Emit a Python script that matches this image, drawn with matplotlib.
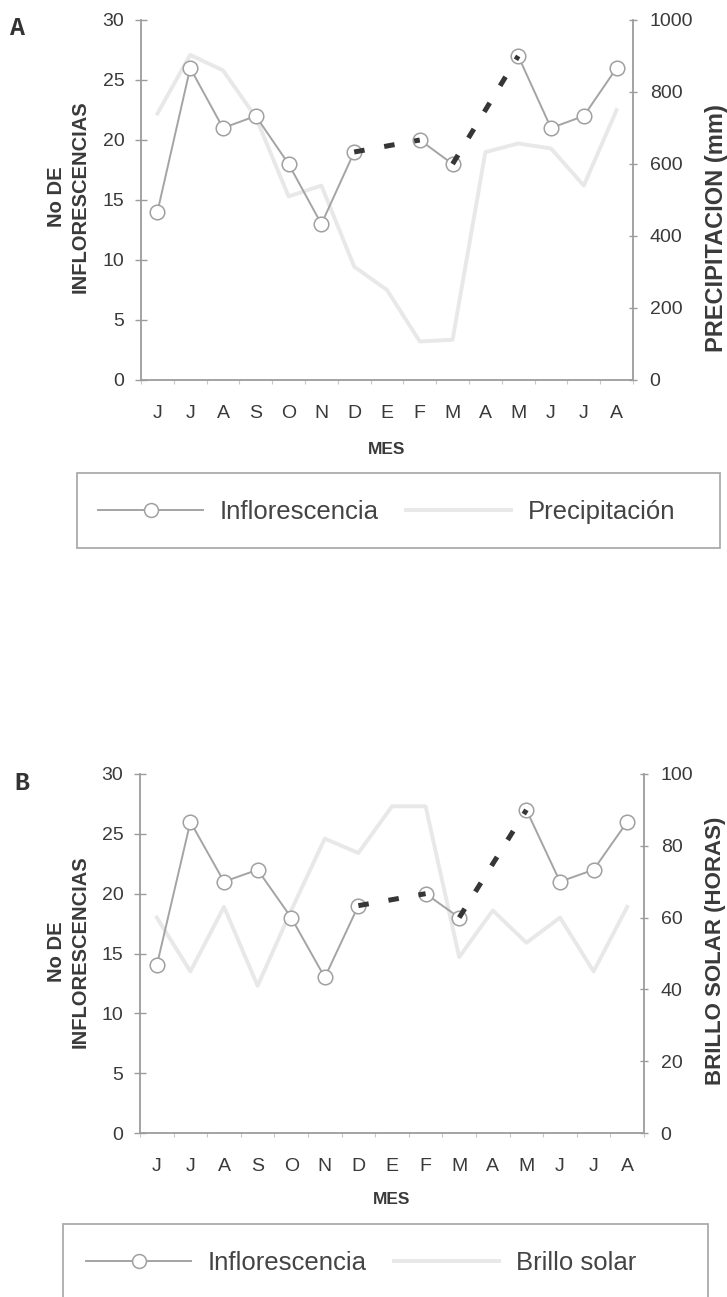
import numpy as np
import matplotlib
matplotlib.use("Agg")
import matplotlib.pyplot as plt
from matplotlib.lines import Line2D
from matplotlib.patches import Rectangle

plt.rcParams["font.family"] = ["Liberation Sans", "DejaVu Sans"]

MESES = ["J", "J", "A", "S", "O", "N", "D", "E", "F", "M", "A", "M", "J", "J", "A"]
# no data for E and A (dashed bridge in the original)
INFLORESCENCIAS = [14, 26, 21, 22, 18, 13, 19, np.nan, 20, 18, np.nan, 27, 21, 22, 26]
PRECIPITACION = [740, 903, 860, 730, 510, 540, 315, 250, 107, 112, 633, 657, 643, 540, 750]
BRILLO_SOLAR = [60, 45, 63, 41, 62, 82, 78, 91, 91, 49, 62, 53, 60, 45, 63]

W, H = 727, 1297
GRIS_EJE = "#9c9c9c"
GRIS_TXT = "#3a3a3a"
LINEA_INFL = "#a4a4a4"
LINEA_CLIMA = "#e8e8e8"


def fx(px):
    return px / W


def fy(py):
    return 1 - py / H


def draw_panel(fig, box, clima, clima_max, clima_label, clima_label_pos, clima_label_size,
               letter, letter_pos, left_label_pos, mes_y, leg_label, leg_pos, leg_frame):
    left, top, right, bottom = box
    ax = fig.add_axes([fx(left), fy(bottom), (right - left) / W, (bottom - top) / H])
    ax2 = ax.twinx()
    ax.set_zorder(ax2.get_zorder() + 1)
    ax.patch.set_visible(False)

    x = np.arange(len(MESES))
    ax2.plot(x, clima, color=LINEA_CLIMA, lw=2.8, solid_joinstyle="round")

    infl = np.array(INFLORESCENCIAS, dtype=float)
    ax.plot(x, infl, color=LINEA_INFL, lw=1.4, marker="o", ms=10.5, mfc="white",
            mec="#a0a0a0", mew=1.1, zorder=3)
    # dark dashed bridge across the months without data
    valid = np.where(~np.isnan(infl))[0]
    for a, b in zip(valid[:-1], valid[1:]):
        if b - a > 1:
            ax.plot([a, b], [infl[a], infl[b]], color="#363636", lw=3.6,
                    dashes=(2.1, 4.0), zorder=4)

    ax.set_xlim(-0.5, len(MESES) - 0.5)
    ax.set_ylim(0, 30)
    ax.set_yticks(range(0, 31, 5))
    ax2.set_ylim(0, clima_max)
    ax2.set_yticks(np.linspace(0, clima_max, 6))
    ax2.set_yticklabels([f"{v:.0f}" for v in np.linspace(0, clima_max, 6)])
    ax.set_xticks(x, MESES)
    ax.set_xticks(np.arange(-0.5, len(MESES), 1), minor=True)

    for s in ["top", "right"]:
        ax.spines[s].set_visible(False)
    for s in ["top", "left", "bottom"]:
        ax2.spines[s].set_visible(False)
    for sp in [ax.spines["left"], ax.spines["bottom"], ax2.spines["right"]]:
        sp.set_color(GRIS_EJE)
        sp.set_linewidth(1.3)

    ax.tick_params(axis="y", direction="inout", length=8, width=1, color=GRIS_EJE,
                   labelsize=14, labelcolor=GRIS_TXT, pad=8)
    ax2.tick_params(axis="y", direction="inout", length=6, width=1, color=GRIS_EJE,
                    labelsize=14, labelcolor=GRIS_TXT, pad=9)
    ax.tick_params(axis="x", which="major", length=0, labelsize=14,
                   labelcolor=GRIS_TXT, pad=18)
    ax.tick_params(axis="x", which="minor", length=3, width=0.8, color="#c8c8c8",
                   direction="out")

    fig.text(fx((left + right) / 2), fy(mes_y), "MES", ha="center", va="baseline",
             fontsize=12.5, fontweight="bold", color=GRIS_TXT)
    fig.text(fx(left_label_pos[0]), fy(left_label_pos[1]), "No DE\nINFLORESCENCIAS",
             rotation=90, ha="center", va="center", multialignment="center",
             fontsize=14.5, fontweight="bold", color=GRIS_TXT, linespacing=1.3)
    fig.text(fx(clima_label_pos[0]), fy(clima_label_pos[1]), clima_label, rotation=90,
             ha="center", va="center", fontsize=clima_label_size, fontweight="bold",
             color=GRIS_TXT)
    fig.text(fx(letter_pos[0]), fy(letter_pos[1]), letter, ha="left", va="baseline",
             fontsize=18, fontweight="bold", family="Liberation Mono", color="#333333")

    handles = [
        Line2D([], [], color=LINEA_INFL, lw=1.4, marker="o", ms=10, mfc="white",
               mec="#a0a0a0", mew=1.1),
        Line2D([], [], color=LINEA_CLIMA, lw=2.8),
    ]
    ax.legend(handles, ["Inflorescencia", leg_label], loc="center left",
              bbox_to_anchor=(fx(leg_pos[0]), fy(leg_pos[1])),
              bbox_transform=fig.transFigure, ncol=2, frameon=False, fontsize=18.5,
              handlelength=4.1, handletextpad=0.65, columnspacing=1.05, borderpad=0,
              borderaxespad=0, numpoints=1, labelcolor="#444444")
    fx0, fy0, fx1, fy1 = leg_frame
    fig.add_artist(Rectangle((fx(fx0), fy(fy1)), (fx1 - fx0) / W, (fy1 - fy0) / H,
                             transform=fig.transFigure, fill=False, ec="#ababab", lw=1.3))


fig = plt.figure(figsize=(W / 100, H / 100), dpi=100)

draw_panel(fig, (141, 20, 633, 380), PRECIPITACION, 1000, "PRECIPITACION (mm)", (717, 228),
           17, "A", (10, 35), (68.5, 197), 454, "Precipitación", (98, 512),
           (77, 473, 720, 548))
draw_panel(fig, (140, 774, 644, 1133), BRILLO_SOLAR, 100, "BRILLO SOLAR (HORAS)", (716, 951),
           16, "B", (14, 790), (68.5, 952), 1204, "Brillo solar", (86, 1263),
           (63, 1224, 708, 1320))

fig.savefig("out.png", dpi=100)
